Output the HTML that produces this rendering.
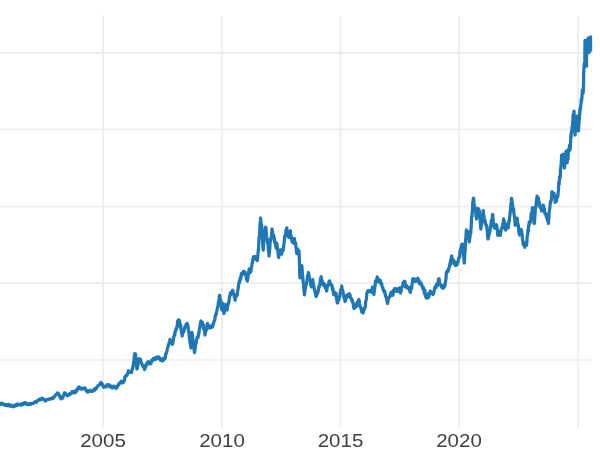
<!DOCTYPE html>
<html><head><meta charset="utf-8"><title>chart</title>
<style>
html,body{margin:0;padding:0;background:#fff;}
body{width:600px;height:450px;overflow:hidden;font-family:"Liberation Sans",sans-serif;}
svg{display:block}
.g line{stroke:#ececec;stroke-width:1.7}
.t text{font-family:"Liberation Sans",sans-serif;font-size:18.4px;fill:#404040;text-anchor:middle}
.l{fill:none;stroke:#1f77b4;stroke-width:3.25;stroke-linejoin:round;stroke-linecap:butt}
</style></head><body>
<svg width="600" height="450" viewBox="0 0 600 450">
<rect width="600" height="450" fill="#fff"/>
<g class="g"><line x1="0" y1="52.9" x2="593" y2="52.9"/><line x1="0" y1="129.5" x2="593" y2="129.5"/><line x1="0" y1="206.5" x2="593" y2="206.5"/><line x1="0" y1="283.2" x2="593" y2="283.2"/><line x1="0" y1="360" x2="593" y2="360"/><line x1="103" y1="15" x2="103" y2="427.5"/><line x1="222" y1="15" x2="222" y2="427.5"/><line x1="340.5" y1="15" x2="340.5" y2="427.5"/><line x1="459" y1="15" x2="459" y2="427.5"/><line x1="578" y1="15" x2="578" y2="427.5"/></g>
<path class="l" d="M-2.00,405.44 L-2.00,404.80 L-1.60,404.56 L-1.20,404.69 L-0.80,404.78 L-0.40,404.26 L-0.00,404.50 L0.00,404.50 L0.40,404.30 L0.80,403.42 L1.20,404.29 L1.60,403.93 L2.00,403.26 L2.00,403.50 L2.40,403.67 L2.80,404.18 L3.20,404.12 L3.60,404.37 L4.00,404.15 L4.40,405.15 L4.50,405.00 L4.80,405.03 L5.20,405.06 L5.60,404.35 L6.00,405.53 L6.40,404.93 L6.80,404.70 L7.20,405.59 L7.50,404.80 L7.60,404.82 L8.00,404.45 L8.40,405.01 L8.80,404.46 L9.20,405.87 L9.60,405.48 L10.00,405.52 L10.00,405.80 L10.40,406.24 L10.80,405.26 L11.20,406.11 L11.60,405.17 L12.00,405.73 L12.40,405.57 L12.80,406.59 L13.20,406.74 L13.60,406.00 L14.00,406.47 L14.40,406.12 L14.50,406.20 L14.80,406.21 L15.20,405.45 L15.60,404.83 L16.00,404.52 L16.40,405.08 L16.80,405.52 L17.20,404.50 L17.50,404.20 L17.60,404.02 L18.00,405.02 L18.40,404.45 L18.80,404.46 L19.20,404.59 L19.60,404.51 L20.00,404.51 L20.40,404.15 L20.80,404.96 L21.00,404.80 L21.20,404.67 L21.60,404.99 L22.00,404.21 L22.40,403.44 L22.80,403.95 L23.20,404.47 L23.60,403.48 L24.00,403.10 L24.40,402.80 L24.80,402.68 L25.00,403.00 L25.20,402.96 L25.60,402.78 L26.00,403.98 L26.40,403.45 L26.80,403.76 L27.20,404.44 L27.50,404.00 L27.60,404.59 L28.00,403.95 L28.40,404.18 L28.80,404.36 L29.20,404.02 L29.60,403.44 L30.00,404.39 L30.40,404.51 L30.80,404.35 L31.00,404.20 L31.20,403.73 L31.60,403.78 L32.00,403.40 L32.40,403.29 L32.80,403.69 L33.20,403.55 L33.60,402.99 L34.00,402.72 L34.00,402.50 L34.40,402.57 L34.80,402.10 L35.20,401.87 L35.60,401.43 L36.00,401.48 L36.40,402.22 L36.80,401.45 L37.20,400.76 L37.60,400.51 L38.00,400.14 L38.00,400.50 L38.40,400.42 L38.80,400.20 L39.20,399.21 L39.60,399.78 L40.00,399.11 L40.40,399.72 L40.80,398.96 L41.20,399.39 L41.60,398.23 L42.00,398.08 L42.00,398.20 L42.40,398.63 L42.80,399.26 L43.20,399.36 L43.60,398.91 L44.00,399.81 L44.40,400.05 L44.80,400.17 L45.00,400.50 L45.20,400.16 L45.60,401.00 L46.00,399.96 L46.40,399.62 L46.80,400.09 L47.20,399.73 L47.60,399.49 L48.00,399.70 L48.40,399.43 L48.80,399.23 L49.00,399.00 L49.20,399.38 L49.60,399.04 L50.00,398.61 L50.40,398.67 L50.80,398.55 L51.20,398.81 L51.60,398.22 L52.00,397.85 L52.40,398.61 L52.80,397.96 L53.00,398.50 L53.20,397.42 L53.60,397.91 L54.00,396.94 L54.40,396.97 L54.80,396.02 L55.00,396.00 L55.20,395.30 L55.60,394.84 L56.00,394.77 L56.40,394.48 L56.80,393.82 L57.20,393.67 L57.50,393.50 L57.60,392.86 L58.00,393.84 L58.40,393.28 L58.80,394.28 L59.00,394.50 L59.20,395.21 L59.60,396.19 L60.00,397.25 L60.40,396.62 L60.80,398.42 L61.00,398.50 L61.20,398.86 L61.60,398.47 L62.00,397.35 L62.40,397.63 L62.80,397.96 L63.00,397.00 L63.20,395.81 L63.60,395.61 L64.00,394.84 L64.40,392.94 L64.50,393.00 L64.80,393.52 L65.20,393.09 L65.60,393.54 L66.00,393.88 L66.40,394.67 L66.80,394.88 L67.20,395.68 L67.50,395.50 L67.60,395.02 L68.00,395.14 L68.40,395.39 L68.80,394.97 L69.20,393.88 L69.60,394.54 L70.00,393.78 L70.00,394.00 L70.40,393.89 L70.80,393.57 L71.20,393.71 L71.60,392.91 L72.00,391.70 L72.40,391.64 L72.80,392.35 L73.20,391.59 L73.50,391.50 L73.60,392.11 L74.00,391.96 L74.40,391.75 L74.80,392.87 L75.00,392.50 L75.20,391.87 L75.60,390.78 L76.00,392.24 L76.40,389.83 L76.80,390.56 L77.20,390.21 L77.60,389.32 L78.00,387.92 L78.40,388.76 L78.80,387.03 L79.00,387.50 L79.20,386.94 L79.60,387.68 L80.00,388.49 L80.40,388.49 L80.80,388.98 L81.20,388.60 L81.50,389.00 L81.60,388.89 L82.00,388.29 L82.40,388.59 L82.80,388.92 L83.20,388.37 L83.60,388.64 L84.00,388.00 L84.40,387.88 L84.80,388.08 L85.00,388.00 L85.20,388.22 L85.60,389.25 L86.00,389.69 L86.40,391.08 L86.80,390.77 L87.20,391.41 L87.50,392.00 L87.60,391.46 L88.00,391.76 L88.40,391.87 L88.80,391.00 L89.20,391.13 L89.60,391.29 L90.00,390.69 L90.40,390.30 L90.50,390.50 L90.80,391.03 L91.20,390.69 L91.60,390.91 L92.00,391.36 L92.40,391.43 L92.80,390.79 L93.00,391.00 L93.20,390.58 L93.60,390.64 L94.00,390.10 L94.40,388.91 L94.80,390.13 L95.20,389.18 L95.60,389.20 L96.00,387.92 L96.00,388.50 L96.40,388.68 L96.80,387.27 L97.20,387.05 L97.60,385.92 L98.00,386.08 L98.40,385.58 L98.80,385.14 L99.00,385.00 L99.20,385.00 L99.60,384.35 L100.00,384.38 L100.40,383.16 L100.80,382.42 L101.20,382.49 L101.20,382.50 L101.60,383.53 L102.00,384.55 L102.40,385.01 L102.80,384.36 L103.20,386.17 L103.50,386.50 L103.60,387.26 L104.00,386.61 L104.40,386.37 L104.80,386.85 L105.20,386.50 L105.50,386.80 L105.60,387.03 L106.00,386.29 L106.40,386.62 L106.80,385.76 L107.20,384.72 L107.50,384.80 L107.60,385.18 L108.00,385.63 L108.40,385.12 L108.80,385.46 L109.20,384.77 L109.60,386.69 L110.00,386.20 L110.00,386.50 L110.40,385.62 L110.80,386.02 L111.20,387.01 L111.60,387.72 L112.00,387.50 L112.40,387.99 L112.50,387.80 L112.80,386.88 L113.20,386.28 L113.60,386.93 L114.00,386.25 L114.00,386.00 L114.40,386.34 L114.80,387.37 L115.20,386.60 L115.60,387.23 L116.00,388.32 L116.00,387.80 L116.40,388.28 L116.80,386.91 L117.20,387.32 L117.60,385.70 L118.00,385.73 L118.40,385.02 L118.50,385.00 L118.80,383.71 L119.20,384.09 L119.60,383.85 L120.00,382.67 L120.40,382.11 L120.50,382.00 L120.80,382.78 L121.20,381.37 L121.60,381.26 L122.00,381.74 L122.40,381.48 L122.80,382.88 L123.20,382.35 L123.50,382.20 L123.60,381.38 L124.00,380.13 L124.40,380.70 L124.80,377.34 L125.00,377.00 L125.20,376.36 L125.60,376.58 L126.00,376.37 L126.40,375.73 L126.80,374.66 L127.00,375.00 L127.20,373.84 L127.60,373.96 L128.00,372.63 L128.40,370.72 L128.50,371.50 L128.80,372.32 L129.20,372.21 L129.60,371.72 L130.00,371.84 L130.40,372.28 L130.80,371.84 L131.20,371.57 L131.50,372.50 L131.60,372.33 L132.00,369.77 L132.40,369.45 L132.80,366.80 L133.00,367.00 L133.20,365.33 L133.60,362.11 L134.00,360.27 L134.40,355.02 L134.50,355.00 L134.80,353.65 L135.20,353.82 L135.50,354.00 L135.60,354.17 L136.00,358.58 L136.40,363.29 L136.80,367.50 L137.00,369.00 L137.20,368.94 L137.60,365.11 L138.00,365.12 L138.40,362.44 L138.50,360.50 L138.80,360.26 L139.20,358.66 L139.60,360.08 L140.00,360.05 L140.00,360.00 L140.40,359.20 L140.80,361.65 L141.20,362.26 L141.60,362.67 L142.00,364.42 L142.40,365.47 L142.50,365.00 L142.80,365.35 L143.20,366.73 L143.60,367.05 L144.00,367.87 L144.40,369.33 L144.50,369.50 L144.80,369.13 L145.20,367.50 L145.60,365.49 L146.00,366.39 L146.40,364.00 L146.80,364.22 L147.20,364.41 L147.50,362.50 L147.60,362.52 L148.00,361.83 L148.40,361.76 L148.80,363.67 L149.20,362.97 L149.60,363.47 L150.00,363.84 L150.40,363.30 L150.80,363.23 L151.00,363.50 L151.20,362.46 L151.60,360.19 L152.00,360.45 L152.40,360.65 L152.80,359.78 L153.20,359.39 L153.50,358.50 L153.60,358.48 L154.00,358.95 L154.40,359.66 L154.80,358.74 L155.00,359.50 L155.20,359.08 L155.60,357.71 L156.00,359.11 L156.40,358.02 L156.80,357.91 L157.20,358.24 L157.50,356.80 L157.60,357.67 L158.00,357.21 L158.40,358.18 L158.80,356.94 L159.20,358.64 L159.60,358.79 L160.00,357.90 L160.40,360.36 L160.50,359.50 L160.80,359.08 L161.20,360.16 L161.60,359.48 L162.00,360.57 L162.40,360.90 L162.50,360.00 L162.80,359.24 L163.20,358.50 L163.60,359.25 L164.00,359.70 L164.40,358.60 L164.80,358.18 L165.00,358.50 L165.20,358.10 L165.60,354.24 L166.00,354.26 L166.40,352.21 L166.80,351.97 L167.00,351.00 L167.20,349.70 L167.60,347.93 L168.00,347.05 L168.40,344.69 L168.80,344.39 L169.20,342.37 L169.60,341.15 L170.00,339.39 L170.00,340.00 L170.40,341.41 L170.80,341.19 L171.20,342.36 L171.60,342.96 L172.00,342.54 L172.40,344.31 L172.50,344.00 L172.80,342.79 L173.20,340.76 L173.60,338.16 L174.00,336.13 L174.40,335.20 L174.50,334.00 L174.80,335.06 L175.20,331.15 L175.60,331.19 L176.00,329.16 L176.40,329.03 L176.50,328.00 L176.80,327.29 L177.20,326.38 L177.60,321.18 L178.00,321.79 L178.40,319.90 L178.50,320.50 L178.80,320.54 L179.20,320.14 L179.50,321.00 L179.60,320.91 L180.00,324.32 L180.40,327.60 L180.80,325.30 L181.00,329.00 L181.20,329.88 L181.60,332.78 L182.00,334.84 L182.20,336.00 L182.40,335.03 L182.80,332.80 L183.20,331.82 L183.60,331.99 L184.00,330.99 L184.00,330.00 L184.40,329.05 L184.80,327.14 L185.20,326.97 L185.60,325.61 L186.00,325.32 L186.40,323.87 L186.50,323.50 L186.80,323.40 L187.20,324.85 L187.60,324.21 L188.00,326.78 L188.00,326.00 L188.40,330.29 L188.80,331.34 L189.20,335.97 L189.50,338.00 L189.60,337.82 L190.00,342.23 L190.40,344.74 L190.80,346.48 L191.00,348.00 L191.20,345.81 L191.60,338.63 L192.00,332.42 L192.00,333.00 L192.40,335.62 L192.80,339.12 L193.20,342.09 L193.60,345.60 L194.00,348.12 L194.40,352.30 L194.50,352.50 L194.80,351.41 L195.20,347.73 L195.60,344.47 L196.00,343.72 L196.40,341.58 L196.50,340.00 L196.80,339.11 L197.20,337.14 L197.60,337.48 L198.00,337.58 L198.40,333.60 L198.50,335.00 L198.80,333.75 L199.20,330.79 L199.60,328.05 L200.00,327.07 L200.40,323.11 L200.80,322.41 L201.00,321.00 L201.20,322.69 L201.60,322.37 L202.00,322.15 L202.40,322.09 L202.50,324.00 L202.80,323.78 L203.20,324.59 L203.60,329.16 L204.00,328.77 L204.00,329.00 L204.40,330.45 L204.80,332.64 L205.00,335.00 L205.20,333.13 L205.60,331.94 L206.00,329.23 L206.40,330.12 L206.80,326.02 L207.20,324.13 L207.50,323.50 L207.60,324.02 L208.00,326.01 L208.40,326.78 L208.80,325.96 L209.20,327.56 L209.50,328.00 L209.60,328.07 L210.00,328.14 L210.40,327.60 L210.80,326.18 L211.20,325.60 L211.60,326.67 L212.00,325.09 L212.40,327.22 L212.80,325.68 L213.00,325.50 L213.20,323.82 L213.60,323.09 L214.00,321.50 L214.40,320.47 L214.80,320.14 L215.20,316.35 L215.60,314.50 L216.00,315.35 L216.00,315.00 L216.40,312.90 L216.80,311.33 L217.20,309.71 L217.60,307.12 L218.00,306.28 L218.40,302.49 L218.50,303.00 L218.80,301.34 L219.20,298.01 L219.60,295.34 L219.80,295.50 L220.00,297.63 L220.40,300.40 L220.80,300.42 L221.00,304.00 L221.20,304.27 L221.60,308.81 L221.80,310.00 L222.00,310.06 L222.40,306.03 L222.80,304.38 L223.00,303.50 L223.20,303.85 L223.60,311.88 L224.00,313.49 L224.00,313.00 L224.40,311.82 L224.80,309.46 L225.20,307.64 L225.60,305.17 L225.60,304.50 L226.00,305.56 L226.40,308.16 L226.80,308.87 L227.00,309.50 L227.20,309.96 L227.60,305.90 L228.00,304.24 L228.40,303.70 L228.50,302.50 L228.80,302.52 L229.20,299.34 L229.60,296.45 L230.00,295.24 L230.40,292.89 L230.50,293.00 L230.80,294.95 L231.20,293.37 L231.60,293.41 L232.00,291.86 L232.40,290.43 L232.80,292.11 L233.00,290.50 L233.20,293.30 L233.60,293.64 L234.00,294.56 L234.40,297.48 L234.80,297.44 L235.20,300.37 L235.20,299.50 L235.60,297.38 L236.00,295.77 L236.40,296.25 L236.80,294.68 L237.20,295.24 L237.50,292.00 L237.60,291.19 L238.00,289.63 L238.40,286.29 L238.80,283.45 L239.20,281.61 L239.60,282.51 L240.00,278.50 L240.00,280.00 L240.40,279.72 L240.80,278.39 L241.20,274.42 L241.50,273.50 L241.60,275.66 L242.00,273.59 L242.40,274.61 L242.80,272.64 L243.20,274.05 L243.60,271.34 L244.00,273.26 L244.40,271.64 L244.80,271.91 L245.00,272.00 L245.20,273.62 L245.60,274.58 L246.00,275.82 L246.40,278.42 L246.80,280.08 L247.20,278.84 L247.30,281.00 L247.60,279.87 L248.00,277.55 L248.40,273.21 L248.80,272.25 L249.00,270.50 L249.20,268.85 L249.60,272.83 L250.00,270.85 L250.40,271.33 L250.50,271.50 L250.80,271.84 L251.20,268.33 L251.60,267.65 L252.00,263.67 L252.40,262.63 L252.50,263.00 L252.80,259.23 L253.20,258.50 L253.50,257.00 L253.60,258.55 L254.00,257.62 L254.40,258.81 L254.80,256.30 L255.20,256.75 L255.60,257.59 L256.00,259.32 L256.00,258.50 L256.40,259.41 L256.80,259.28 L257.20,260.59 L257.50,260.00 L257.60,258.45 L258.00,253.30 L258.40,249.97 L258.80,241.76 L259.00,240.00 L259.20,237.36 L259.60,233.83 L260.00,225.50 L260.40,220.68 L260.50,218.00 L260.80,219.77 L261.20,227.82 L261.60,224.55 L262.00,230.16 L262.00,232.00 L262.40,236.17 L262.80,246.16 L263.20,250.03 L263.20,249.50 L263.60,244.64 L264.00,238.57 L264.40,236.70 L264.50,235.00 L264.80,233.68 L265.20,230.37 L265.60,227.05 L265.80,228.50 L266.00,228.28 L266.40,233.61 L266.80,236.94 L267.20,239.73 L267.50,242.00 L267.60,242.70 L268.00,243.98 L268.40,250.47 L268.80,252.62 L269.00,256.00 L269.20,253.93 L269.60,250.30 L270.00,244.30 L270.40,239.47 L270.50,240.00 L270.80,240.29 L271.20,237.58 L271.60,234.31 L272.00,228.79 L272.40,231.85 L272.50,231.50 L272.80,233.79 L273.20,236.28 L273.60,235.09 L274.00,236.86 L274.40,238.88 L274.50,240.00 L274.80,242.90 L275.20,241.92 L275.60,245.69 L276.00,246.60 L276.00,248.00 L276.40,247.21 L276.80,243.23 L277.00,245.00 L277.20,247.17 L277.60,249.06 L278.00,252.67 L278.40,256.96 L278.50,257.00 L278.80,257.61 L279.20,252.07 L279.60,254.63 L280.00,252.58 L280.40,249.91 L280.50,250.00 L280.80,252.69 L281.20,251.68 L281.60,254.11 L282.00,252.13 L282.00,253.00 L282.40,249.71 L282.80,250.84 L283.20,250.28 L283.60,245.97 L284.00,244.38 L284.00,243.00 L284.40,239.86 L284.80,236.11 L285.20,235.44 L285.50,234.00 L285.60,236.18 L286.00,229.82 L286.40,231.10 L286.80,227.84 L287.00,230.50 L287.20,231.23 L287.60,233.57 L288.00,231.24 L288.40,233.69 L288.80,237.57 L289.00,236.00 L289.20,235.59 L289.60,233.22 L290.00,232.55 L290.40,230.89 L290.50,234.00 L290.80,236.44 L291.20,235.61 L291.60,240.06 L292.00,241.36 L292.40,240.57 L292.50,242.00 L292.80,241.03 L293.20,242.86 L293.60,241.68 L294.00,241.67 L294.40,238.48 L294.50,241.00 L294.80,243.82 L295.20,242.98 L295.60,242.77 L296.00,247.19 L296.40,250.66 L296.50,250.50 L296.80,253.69 L297.20,250.08 L297.60,248.74 L298.00,253.96 L298.40,251.12 L298.80,250.57 L299.00,251.00 L299.20,255.95 L299.60,269.15 L299.80,277.00 L300.00,277.78 L300.40,273.19 L300.80,270.53 L301.20,268.26 L301.60,268.81 L301.80,265.50 L302.00,267.11 L302.40,273.59 L302.80,277.93 L303.00,280.00 L303.20,282.17 L303.60,284.51 L304.00,290.13 L304.40,294.97 L304.50,294.00 L304.80,292.29 L305.20,289.04 L305.60,286.37 L306.00,285.99 L306.40,283.21 L306.50,283.00 L306.80,281.29 L307.20,279.34 L307.60,275.31 L308.00,276.15 L308.40,273.34 L308.50,272.50 L308.80,273.98 L309.20,276.48 L309.60,279.47 L310.00,280.44 L310.40,281.40 L310.50,283.00 L310.80,285.66 L311.20,285.26 L311.50,287.00 L311.60,285.65 L312.00,282.75 L312.40,282.86 L312.80,279.67 L312.80,281.00 L313.20,282.28 L313.60,285.43 L314.00,286.85 L314.40,289.99 L314.80,291.05 L315.20,292.15 L315.60,294.18 L316.00,295.91 L316.00,296.50 L316.40,296.21 L316.80,294.45 L317.20,292.89 L317.60,293.35 L318.00,291.42 L318.40,289.70 L318.50,290.00 L318.80,286.71 L319.20,287.17 L319.60,285.00 L320.00,282.84 L320.40,280.30 L320.80,277.85 L321.20,276.71 L321.20,277.00 L321.60,279.08 L322.00,280.39 L322.40,282.15 L322.80,283.53 L323.00,285.00 L323.20,285.29 L323.60,284.89 L324.00,283.39 L324.40,285.02 L324.50,284.00 L324.80,286.03 L325.20,287.45 L325.60,287.69 L326.00,289.01 L326.40,289.26 L326.50,291.00 L326.80,290.83 L327.20,285.88 L327.60,286.56 L328.00,285.18 L328.40,285.23 L328.80,282.72 L329.00,282.00 L329.20,281.02 L329.60,280.92 L330.00,282.28 L330.40,283.81 L330.80,284.23 L331.20,284.39 L331.50,285.00 L331.60,284.51 L332.00,286.54 L332.40,289.46 L332.80,288.35 L333.20,291.16 L333.60,294.48 L334.00,294.65 L334.00,294.00 L334.40,293.26 L334.80,294.38 L335.20,292.51 L335.60,293.21 L336.00,294.84 L336.00,293.00 L336.40,298.80 L336.80,298.26 L337.00,302.00 L337.20,302.39 L337.60,303.00 L338.00,299.38 L338.40,299.50 L338.80,300.13 L339.20,297.03 L339.50,297.00 L339.60,297.05 L340.00,294.54 L340.40,290.41 L340.80,291.20 L341.20,288.65 L341.60,288.10 L341.80,286.00 L342.00,289.57 L342.40,289.83 L342.80,290.56 L343.00,292.00 L343.20,293.48 L343.60,295.09 L344.00,297.93 L344.40,297.00 L344.80,299.23 L345.00,301.50 L345.20,298.64 L345.60,300.54 L346.00,298.73 L346.40,296.91 L346.80,295.71 L347.00,296.00 L347.20,295.21 L347.60,294.56 L348.00,295.02 L348.40,294.58 L348.80,296.55 L349.20,295.06 L349.50,294.50 L349.60,293.74 L350.00,294.82 L350.40,297.69 L350.80,297.62 L351.20,298.24 L351.60,299.52 L352.00,301.31 L352.00,299.50 L352.40,299.93 L352.80,302.27 L353.20,302.99 L353.60,307.24 L354.00,308.09 L354.00,308.50 L354.40,307.22 L354.80,306.56 L355.20,307.57 L355.60,306.11 L356.00,305.12 L356.40,306.52 L356.50,305.00 L356.80,303.25 L357.20,302.20 L357.60,305.69 L358.00,301.59 L358.40,300.59 L358.80,299.58 L359.00,300.00 L359.20,300.75 L359.60,303.57 L360.00,305.33 L360.40,306.89 L360.80,307.80 L361.00,309.00 L361.20,307.76 L361.60,310.35 L362.00,312.36 L362.40,312.58 L362.80,311.97 L363.00,312.50 L363.20,312.89 L363.60,310.74 L364.00,310.19 L364.40,308.03 L364.80,308.11 L365.00,308.00 L365.20,306.49 L365.60,302.81 L366.00,300.54 L366.40,298.52 L366.80,294.57 L366.80,293.00 L367.20,292.27 L367.60,291.40 L368.00,291.13 L368.40,290.38 L368.80,291.22 L369.00,291.00 L369.20,291.62 L369.60,291.55 L370.00,291.79 L370.40,291.97 L370.80,291.84 L370.80,292.00 L371.20,290.17 L371.60,292.20 L372.00,290.45 L372.40,287.13 L372.50,288.00 L372.80,287.90 L373.20,289.63 L373.60,291.71 L374.00,294.49 L374.00,293.00 L374.40,291.03 L374.80,287.91 L375.20,284.76 L375.50,281.00 L375.60,282.27 L376.00,281.27 L376.40,280.38 L376.80,279.11 L377.00,279.00 L377.20,276.87 L377.60,279.18 L378.00,281.88 L378.40,279.11 L378.80,279.23 L379.20,281.56 L379.60,280.59 L380.00,280.10 L380.40,282.92 L380.50,281.00 L380.80,282.63 L381.20,283.91 L381.60,283.37 L382.00,285.82 L382.40,286.78 L382.80,288.39 L383.00,288.00 L383.20,289.90 L383.60,290.86 L384.00,290.71 L384.40,292.32 L384.80,291.14 L385.00,293.00 L385.20,294.60 L385.60,296.32 L386.00,296.75 L386.40,298.00 L386.80,300.49 L387.20,300.88 L387.50,303.50 L387.60,303.45 L388.00,301.66 L388.40,298.52 L388.80,297.92 L389.00,297.00 L389.20,297.84 L389.60,297.04 L390.00,296.18 L390.40,294.02 L390.80,293.00 L391.20,292.14 L391.50,292.00 L391.60,292.81 L392.00,295.30 L392.40,294.57 L392.80,295.18 L393.00,293.50 L393.20,294.60 L393.60,290.08 L394.00,290.76 L394.40,289.48 L394.80,290.52 L395.00,288.50 L395.20,290.85 L395.60,288.60 L396.00,290.05 L396.40,291.27 L396.80,290.61 L397.00,291.50 L397.20,290.47 L397.60,289.85 L398.00,291.17 L398.40,288.44 L398.80,290.36 L399.20,288.53 L399.50,288.00 L399.60,289.42 L400.00,292.36 L400.40,291.70 L400.50,293.00 L400.80,290.98 L401.20,291.06 L401.60,287.90 L402.00,286.86 L402.40,286.21 L402.50,286.00 L402.80,285.29 L403.20,282.35 L403.60,282.22 L404.00,282.24 L404.00,281.50 L404.40,284.29 L404.80,281.25 L405.20,286.42 L405.60,286.99 L406.00,285.67 L406.00,287.00 L406.40,285.28 L406.80,287.67 L407.20,286.73 L407.60,287.49 L408.00,288.45 L408.40,287.03 L408.50,287.50 L408.80,288.15 L409.20,289.13 L409.60,290.22 L410.00,291.87 L410.40,292.39 L410.50,290.50 L410.80,289.47 L411.20,287.13 L411.60,288.59 L412.00,284.70 L412.40,282.68 L412.80,278.98 L413.00,279.50 L413.20,280.65 L413.60,278.99 L414.00,279.72 L414.40,278.93 L414.80,280.28 L415.20,281.34 L415.50,281.50 L415.60,279.55 L416.00,280.07 L416.40,280.86 L416.80,279.12 L417.20,278.89 L417.60,279.18 L418.00,278.21 L418.00,280.00 L418.40,281.42 L418.80,280.03 L419.20,282.89 L419.60,283.72 L420.00,281.70 L420.40,283.89 L420.50,284.00 L420.80,283.78 L421.20,283.47 L421.60,284.96 L422.00,285.58 L422.40,287.25 L422.50,286.50 L422.80,288.58 L423.20,287.09 L423.60,289.04 L424.00,291.26 L424.40,293.13 L424.50,292.00 L424.80,289.94 L425.20,295.43 L425.60,294.83 L426.00,297.90 L426.40,296.74 L426.50,297.50 L426.80,296.36 L427.20,297.13 L427.60,298.19 L428.00,296.64 L428.40,293.63 L428.80,296.91 L429.00,296.00 L429.20,293.73 L429.60,293.66 L430.00,292.63 L430.40,291.03 L430.50,293.00 L430.80,291.70 L431.20,292.25 L431.60,292.94 L432.00,293.84 L432.40,293.75 L432.80,292.64 L433.00,294.50 L433.20,293.54 L433.60,293.41 L434.00,291.89 L434.40,289.41 L434.80,288.51 L435.00,287.00 L435.20,287.81 L435.60,287.82 L436.00,287.67 L436.40,284.60 L436.80,284.09 L437.20,285.70 L437.60,285.24 L438.00,284.65 L438.40,279.18 L438.50,282.00 L438.80,282.08 L439.20,278.74 L439.60,284.24 L440.00,283.87 L440.40,284.35 L440.80,284.59 L441.00,285.00 L441.20,286.92 L441.60,285.54 L442.00,287.77 L442.40,287.78 L442.80,288.14 L443.00,288.00 L443.20,288.27 L443.60,287.24 L444.00,285.15 L444.40,286.79 L444.80,286.18 L445.00,285.00 L445.20,283.22 L445.60,281.13 L446.00,278.17 L446.40,272.10 L446.50,273.00 L446.80,272.44 L447.20,271.53 L447.60,270.41 L448.00,271.56 L448.40,269.49 L448.50,270.50 L448.80,268.41 L449.20,267.34 L449.60,265.49 L450.00,263.45 L450.00,263.00 L450.40,264.69 L450.80,259.35 L451.20,258.96 L451.50,257.50 L451.60,255.94 L452.00,259.09 L452.40,260.77 L452.80,261.57 L453.20,259.66 L453.60,260.89 L454.00,263.78 L454.00,262.00 L454.40,262.27 L454.80,264.14 L455.20,261.84 L455.60,265.53 L456.00,265.43 L456.40,265.05 L456.80,263.69 L457.00,265.00 L457.20,264.04 L457.60,263.01 L458.00,261.71 L458.40,259.72 L458.80,258.09 L459.20,257.21 L459.60,257.50 L460.00,251.06 L460.00,254.00 L460.40,250.37 L460.80,248.50 L461.20,248.17 L461.60,244.97 L462.00,246.84 L462.40,244.55 L462.50,244.00 L462.80,246.78 L463.20,250.38 L463.60,255.84 L464.00,260.09 L464.30,263.00 L464.40,261.82 L464.80,253.70 L465.20,249.16 L465.60,239.30 L466.00,237.00 L466.00,235.00 L466.40,229.86 L466.80,233.65 L467.20,232.47 L467.60,235.47 L468.00,231.61 L468.00,234.00 L468.40,238.51 L468.80,234.75 L469.20,242.00 L469.50,240.00 L469.60,239.90 L470.00,236.05 L470.40,233.51 L470.80,233.20 L471.00,228.00 L471.20,226.89 L471.60,216.38 L472.00,217.09 L472.00,215.00 L472.40,210.34 L472.80,201.90 L473.20,201.18 L473.30,198.50 L473.60,198.11 L474.00,203.16 L474.40,205.72 L474.80,206.60 L475.00,209.00 L475.20,211.49 L475.60,211.20 L476.00,216.00 L476.40,217.39 L476.50,219.00 L476.80,215.98 L477.20,216.09 L477.50,210.00 L477.60,210.25 L478.00,208.31 L478.40,210.24 L478.80,209.28 L479.20,210.90 L479.50,211.00 L479.60,212.67 L480.00,218.07 L480.40,223.60 L480.80,228.10 L480.80,229.00 L481.20,226.75 L481.60,224.79 L482.00,218.94 L482.00,220.00 L482.40,216.98 L482.80,214.26 L483.20,213.45 L483.30,210.50 L483.60,215.27 L484.00,215.94 L484.40,221.16 L484.50,222.00 L484.80,219.92 L485.20,221.42 L485.60,223.68 L486.00,225.31 L486.40,226.45 L486.50,225.00 L486.80,227.29 L487.20,229.33 L487.60,235.90 L488.00,238.73 L488.00,239.00 L488.40,237.75 L488.80,235.42 L489.20,234.40 L489.60,232.39 L490.00,230.79 L490.40,226.72 L490.50,227.00 L490.80,226.79 L491.20,221.77 L491.60,220.27 L492.00,220.84 L492.40,215.75 L492.50,214.50 L492.80,214.50 L493.20,221.78 L493.60,223.62 L494.00,226.54 L494.40,227.65 L494.50,228.00 L494.80,228.12 L495.20,226.56 L495.60,225.18 L496.00,228.30 L496.40,224.53 L496.50,225.00 L496.80,226.00 L497.20,228.47 L497.60,234.63 L498.00,235.41 L498.00,234.00 L498.40,233.41 L498.80,233.93 L499.20,234.82 L499.60,235.41 L500.00,231.41 L500.40,235.45 L500.50,234.00 L500.80,232.25 L501.20,229.61 L501.60,228.22 L502.00,228.31 L502.00,227.00 L502.40,228.27 L502.80,223.92 L503.20,222.94 L503.60,218.94 L503.80,219.50 L504.00,221.46 L504.40,224.24 L504.80,222.60 L505.20,226.47 L505.50,229.00 L505.60,230.20 L506.00,225.60 L506.40,227.48 L506.80,228.69 L507.20,224.50 L507.60,226.24 L508.00,226.59 L508.40,227.58 L508.50,226.00 L508.80,221.24 L509.20,221.83 L509.60,217.00 L510.00,215.11 L510.00,213.00 L510.40,211.08 L510.80,205.62 L511.20,201.90 L511.30,200.00 L511.60,198.29 L512.00,201.03 L512.40,203.68 L512.80,206.87 L513.20,211.17 L513.50,211.00 L513.60,208.64 L514.00,214.44 L514.40,215.92 L514.80,218.75 L515.00,223.00 L515.20,225.34 L515.60,222.69 L516.00,224.97 L516.40,223.89 L516.80,219.99 L517.20,218.08 L517.50,221.00 L517.60,225.22 L518.00,223.82 L518.40,225.40 L518.80,231.23 L519.20,233.12 L519.50,235.00 L519.60,233.62 L520.00,232.91 L520.40,232.51 L520.80,231.15 L521.20,231.04 L521.30,229.50 L521.60,231.04 L522.00,233.88 L522.40,238.20 L522.80,240.56 L523.20,244.58 L523.50,245.00 L523.60,244.62 L524.00,244.85 L524.40,243.23 L524.80,247.29 L525.20,242.87 L525.60,245.31 L526.00,243.63 L526.40,245.52 L526.50,245.00 L526.80,243.60 L527.20,236.47 L527.60,235.31 L528.00,229.40 L528.40,231.16 L528.50,228.00 L528.80,225.82 L529.20,222.00 L529.60,221.53 L530.00,223.04 L530.40,221.44 L530.80,219.16 L531.00,216.00 L531.20,213.63 L531.60,212.73 L532.00,213.90 L532.40,207.69 L532.50,208.50 L532.80,210.41 L533.20,212.66 L533.60,215.66 L534.00,223.05 L534.30,223.50 L534.40,223.19 L534.80,217.41 L535.20,212.15 L535.50,207.00 L535.60,208.21 L536.00,206.59 L536.40,201.29 L536.80,198.13 L537.00,197.50 L537.20,196.04 L537.60,200.87 L538.00,198.79 L538.40,197.89 L538.80,201.05 L539.00,202.00 L539.20,202.76 L539.60,205.68 L540.00,207.42 L540.40,205.72 L540.80,207.04 L541.20,209.33 L541.50,211.00 L541.60,208.67 L542.00,209.93 L542.40,210.25 L542.80,208.80 L543.20,205.13 L543.50,207.50 L543.60,205.68 L544.00,211.43 L544.40,208.62 L544.80,213.03 L545.20,214.14 L545.50,214.00 L545.60,213.75 L546.00,213.85 L546.40,217.21 L546.80,216.59 L547.20,219.08 L547.60,220.83 L548.00,220.70 L548.40,222.80 L548.50,223.50 L548.80,218.92 L549.20,211.88 L549.50,210.00 L549.60,209.11 L550.00,206.10 L550.40,201.73 L550.80,202.23 L551.20,200.13 L551.50,199.00 L551.60,197.17 L552.00,191.61 L552.40,194.18 L552.50,192.00 L552.80,194.05 L553.20,194.99 L553.60,195.36 L554.00,193.38 L554.40,196.98 L554.50,197.00 L554.80,195.86 L555.20,202.48 L555.60,198.23 L556.00,201.24 L556.40,197.93 L556.50,201.00 L556.80,197.41 L557.20,196.73 L557.60,197.19 L558.00,195.04 L558.00,194.00 L558.40,190.56 L558.80,182.37 L559.00,184.00 L559.20,184.38 L559.60,176.54 L560.00,177.96 L560.40,174.78 L560.50,170.00 L560.80,168.13 L561.20,163.71 L561.50,158.00 L561.60,155.01 L562.00,162.26 L562.40,156.07 L562.80,156.71 L563.00,154.00 L563.20,154.00 L563.60,159.46 L564.00,160.82 L564.40,166.56 L564.50,168.00 L564.80,164.63 L565.20,160.61 L565.60,158.57 L566.00,152.06 L566.00,151.00 L566.40,153.93 L566.80,155.88 L567.20,162.53 L567.50,160.00 L567.60,158.06 L568.00,159.08 L568.40,149.41 L568.80,148.96 L569.20,149.01 L569.50,146.00 L569.60,145.10 L570.00,150.14 L570.40,147.08 L570.80,135.58 L571.00,138.00 L571.20,133.32 L571.60,131.07 L572.00,131.14 L572.00,127.00 L572.40,126.88 L572.80,122.10 L573.20,115.01 L573.60,113.54 L573.80,114.20 L574.00,111.10 L574.40,120.92 L574.80,132.54 L575.00,135.00 L575.20,133.46 L575.60,121.68 L576.00,118.27 L576.00,118.00 L576.40,121.66 L576.80,117.74 L577.20,116.26 L577.60,118.18 L577.80,116.50 L578.00,121.93 L578.40,129.13 L578.50,131.00 L578.80,125.54 L579.20,120.18 L579.60,115.83 L580.00,108.64 L580.00,110.00 L580.40,109.72 L580.80,104.96 L581.20,101.82 L581.20,99.00 L581.60,101.02 L582.00,96.62 L582.30,90.00 L582.40,94.10 L582.80,92.66 L583.20,92.51 L583.20,93.00 L583.60,81.35 L583.60,75.00 L584.00,67.93 L584.40,62.86 L584.60,62.00 L586.60,66.00 L586.40,52.00 L584.80,59.60 L585.00,40.40 L585.70,52.00 L586.40,40.40 L587.20,52.50 L588.00,38.10 L588.70,52.80 L589.30,38.10 L589.90,51.50 L590.55,36.90 L590.55,51.00"/>
<g class="t" style="will-change:transform"><text x="103" y="446.8" textLength="45.6" lengthAdjust="spacingAndGlyphs">2005</text><text x="222" y="446.8" textLength="45.6" lengthAdjust="spacingAndGlyphs">2010</text><text x="340.5" y="446.8" textLength="45.6" lengthAdjust="spacingAndGlyphs">2015</text><text x="459" y="446.8" textLength="45.6" lengthAdjust="spacingAndGlyphs">2020</text></g>
</svg>
</body></html>
